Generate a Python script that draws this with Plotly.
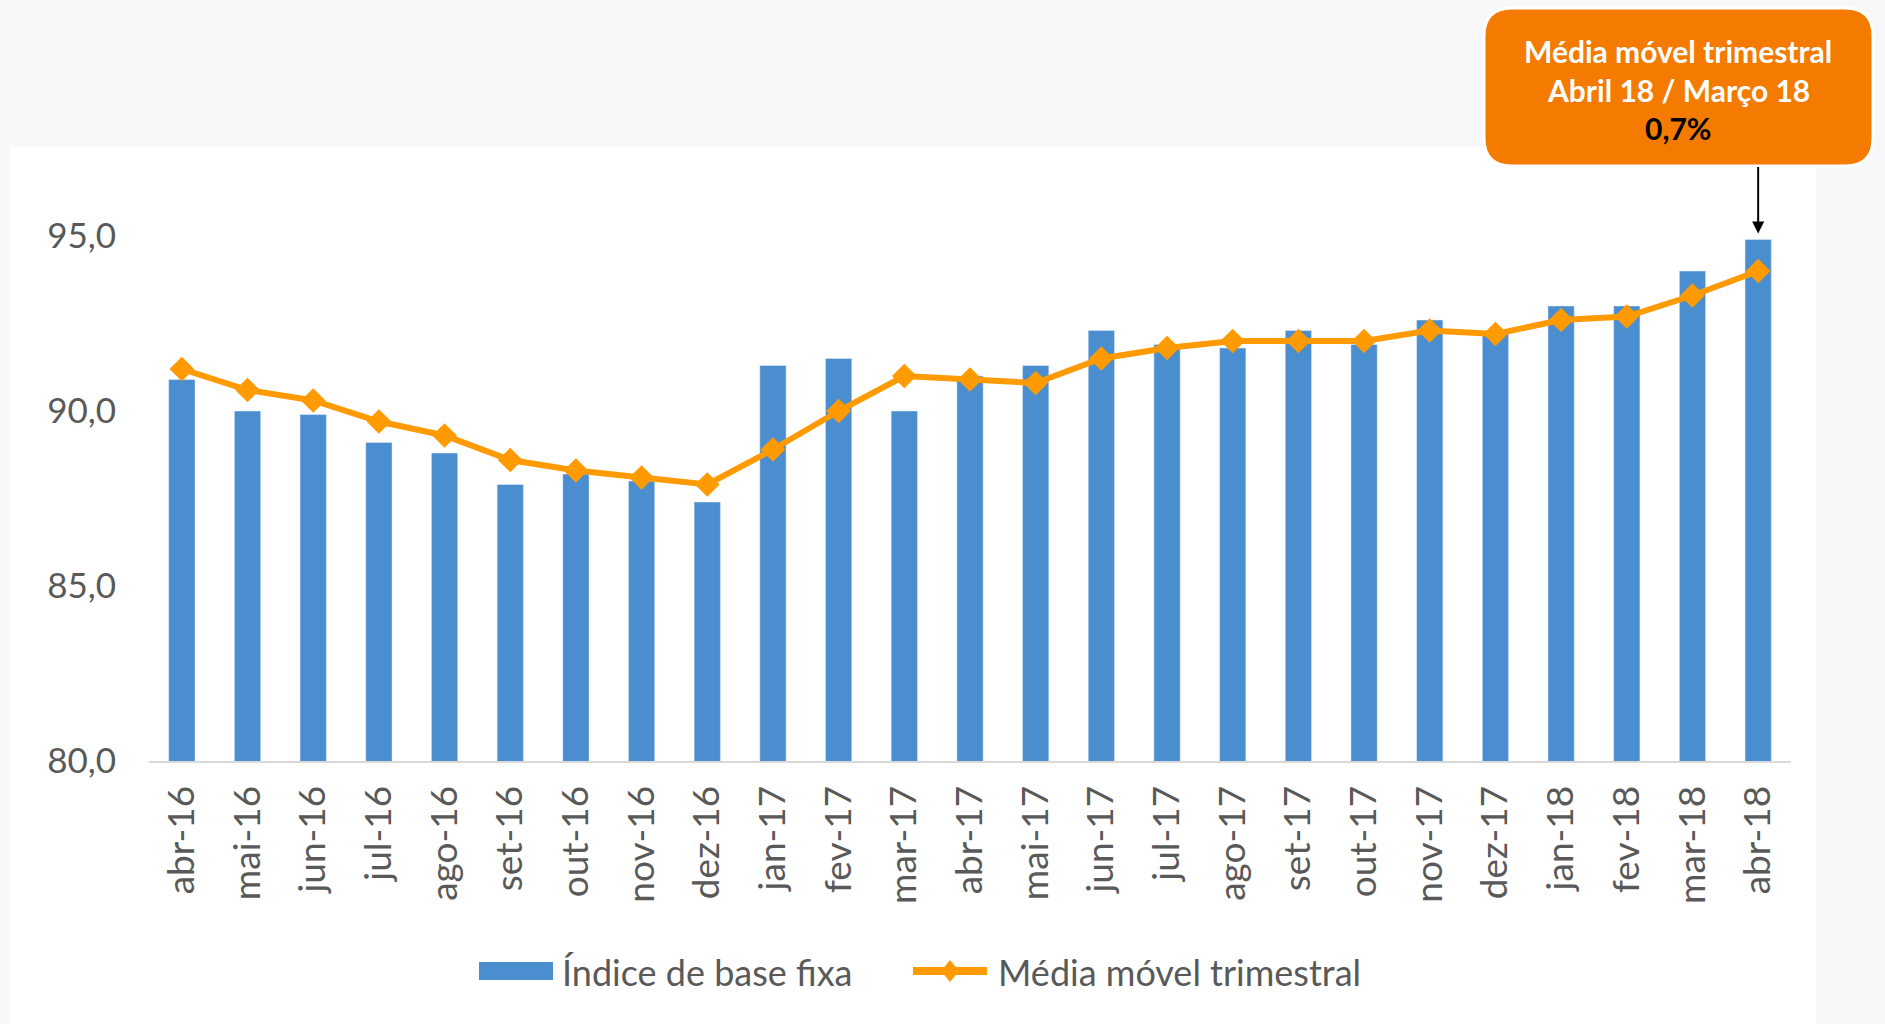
import plotly.graph_objects as go

# ---- data ----
months = ["abr-16", "mai-16", "jun-16", "jul-16", "ago-16", "set-16", "out-16", "nov-16", "dez-16",
          "jan-17", "fev-17", "mar-17", "abr-17", "mai-17", "jun-17", "jul-17", "ago-17", "set-17",
          "out-17", "nov-17", "dez-17", "jan-18", "fev-18", "mar-18", "abr-18"]
indice_base_fixa = [90.9, 90.0, 89.9, 89.1, 88.8, 87.9, 88.2, 88.0, 87.4,
                    91.3, 91.5, 90.0, 91.0, 91.3, 92.3, 91.9, 91.8, 92.3,
                    91.9, 92.6, 92.2, 93.0, 93.0, 94.0, 94.9]
media_movel = [91.2, 90.6, 90.3, 89.7, 89.3, 88.6, 88.3, 88.1, 87.9,
               88.9, 90.0, 91.0, 90.9, 90.8, 91.5, 91.8, 92.0, 92.0,
               92.0, 92.3, 92.2, 92.6, 92.7, 93.3, 94.0]
y_ticks = [80, 85, 90, 95]
y_tick_labels = ["80,0", "85,0", "90,0", "95,0"]
series_names = ["Índice de base fixa", "Média móvel trimestral"]
callout_lines = ["Média móvel trimestral", "Abril 18 / Março 18", "0,7%"]

# ---- layout geometry (pixels) ----
W, H = 1885, 1024
L, R, T, B = 149, 1791, 226, 761
PW, PH = R - L, B - T


def px(x):
    return (x - L) / PW


def py(y):
    return (B - y) / PH


BLUE = "#4A8ECF"
ORANGE = "#FF9A00"
BOX = "#F57B00"
GREY_TXT = "#595959"
FONT = "Lato, 'Open Sans', sans-serif"

fig = go.Figure()
fig.add_trace(go.Bar(x=months, y=indice_base_fixa, name=series_names[0],
                     marker=dict(color=BLUE), showlegend=False))
fig.add_trace(go.Scatter(x=months, y=media_movel, name=series_names[1], mode="lines+markers",
                         line=dict(color=ORANGE, width=6),
                         marker=dict(symbol="diamond", size=19, color=ORANGE),
                         showlegend=False))

shapes = []
# white chart area on light grey page
shapes.append(dict(type="rect", xref="paper", yref="paper", layer="below",
                   x0=px(10), x1=px(1816), y0=py(1030), y1=py(147),
                   fillcolor="white", line=dict(width=0)))

# rounded callout box
x0, x1, y0, y1 = 1484, 1873, 8, 166
r = 28


def rounded_path(x0, y0, x1, y1, r):
    pts = [
        f"M {px(x0 + r)},{py(y0)}",
        f"L {px(x1 - r)},{py(y0)}",
        f"Q {px(x1)},{py(y0)} {px(x1)},{py(y0 + r)}",
        f"L {px(x1)},{py(y1 - r)}",
        f"Q {px(x1)},{py(y1)} {px(x1 - r)},{py(y1)}",
        f"L {px(x0 + r)},{py(y1)}",
        f"Q {px(x0)},{py(y1)} {px(x0)},{py(y1 - r)}",
        f"L {px(x0)},{py(y0 + r)}",
        f"Q {px(x0)},{py(y0)} {px(x0 + r)},{py(y0)}",
        "Z",
    ]
    return " ".join(pts)


shapes.append(dict(type="path", xref="paper", yref="paper", path=rounded_path(x0, y0, x1, y1, r),
                   fillcolor=BOX, line=dict(color="white", width=3), layer="above"))

# manual legend
shapes.append(dict(type="rect", xref="paper", yref="paper", x0=px(479), x1=px(553),
                   y0=py(980), y1=py(962), fillcolor=BLUE, line=dict(width=0)))
shapes.append(dict(type="line", xref="paper", yref="paper", x0=px(913), x1=px(987),
                   y0=py(971), y1=py(971), line=dict(color=ORANGE, width=8)))
cx, cy = 950, 971
shapes.append(dict(type="path", xref="paper", yref="paper",
                   path=f"M {px(cx-9)},{py(cy)} L {px(cx)},{py(cy-11)} L {px(cx+9)},{py(cy)} L {px(cx)},{py(cy+11)} Z",
                   fillcolor=ORANGE, line=dict(width=0)))

annotations = [
    dict(xref="paper", yref="paper", x=px(560), y=py(972), xanchor="left", yanchor="middle",
         text=series_names[0], showarrow=False, font=dict(family=FONT, size=36, color=GREY_TXT)),
    dict(xref="paper", yref="paper", x=px(996), y=py(972), xanchor="left", yanchor="middle",
         text=series_names[1], showarrow=False, font=dict(family=FONT, size=36, color=GREY_TXT)),
    dict(xref="paper", yref="paper", x=px(1678), y=py(51), xanchor="center", yanchor="middle",
         text=f"<b>{callout_lines[0]}</b>", showarrow=False, font=dict(family=FONT, size=30, color="white")),
    dict(xref="paper", yref="paper", x=px(1678), y=py(90), xanchor="center", yanchor="middle",
         text=f"<b>{callout_lines[1]}</b>", showarrow=False, font=dict(family=FONT, size=30, color="white")),
    dict(xref="paper", yref="paper", x=px(1678), y=py(128), xanchor="center", yanchor="middle",
         text=f"<b>{callout_lines[2]}</b>", showarrow=False, font=dict(family=FONT, size=30, color="black")),
    # arrow from callout to last bar
    dict(x=months[-1], y=indice_base_fixa[-1], xref="x", yref="y", text="", showarrow=True,
         ax=0, ay=-68, yshift=6, arrowhead=2, arrowsize=1.2, arrowwidth=2, arrowcolor="black",
         standoff=0),
]

fig.update_layout(
    width=W, height=H,
    margin=dict(l=L, r=W - R, t=T, b=H - B, pad=0),
    paper_bgcolor="#F8F8FA",
    plot_bgcolor="rgba(0,0,0,0)",
    bargap=0.6,
    font=dict(family=FONT, color=GREY_TXT),
    shapes=shapes,
    annotations=annotations,
    showlegend=False,
    xaxis=dict(type="category", range=[-0.5, len(months) - 0.5], autorange=False,
               showgrid=False, showline=True, linecolor="#D9D9D9", linewidth=2,
               tickangle=-90, tickfont=dict(family=FONT, size=37, color=GREY_TXT),
               ticks="", ticklabelstandoff=8, zeroline=False),
    yaxis=dict(range=[80, 95 + 10 / 35], autorange=False, tickvals=y_ticks, ticktext=y_tick_labels,
               showgrid=False, showline=False, zeroline=False, ticks="",
               tickfont=dict(family=FONT, size=35, color=GREY_TXT), ticklabelstandoff=32),
)

fig.write_html("out.html", config={"displayModeBar": False},
               post_script="document.body.style.margin='0';document.body.style.overflow='hidden';")
